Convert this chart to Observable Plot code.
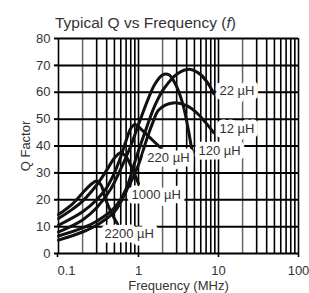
<!DOCTYPE html>
<html>
<head>
<meta charset="utf-8">
<script src="https://cdn.jsdelivr.net/npm/d3@7"></script>
<script src="https://cdn.jsdelivr.net/npm/@observablehq/plot@0.6"></script>
<style>
  html, body { margin: 0; padding: 0; background: #fff; }
  #wrap { width: 309px; height: 293px; position: relative; overflow: hidden; }
  #title { position: absolute; left: 55px; top: 15px; font: 15.5px "Liberation Sans", Arial, sans-serif; line-height: 1; color: #333; white-space: nowrap; }
  #chart { position: absolute; left: 0; top: 33px; }
</style>
</head>
<body>
<div id="wrap">
  <div id="title">Typical Q vs Frequency (<i>f</i>)</div>
  <div id="chart"></div>
</div>
<script>
// Series names
const series = ["12 µH", "22 µH", "120 µH", "220 µH", "1000 µH", "2200 µH"];

// Frequency (MHz) and Q values per series
const f12 = [0.1, 0.2, 0.3, 0.5, 0.7, 1.0, 1.22, 1.5, 1.8, 2.7, 4, 5.5, 7, 8.7];
const q12 = [5, 8, 10.5, 15.5, 23, 33, 41, 48.5, 53.5, 56, 55, 52, 48.5, 45];

const f22 = [0.1, 0.2, 0.3, 0.5, 0.7, 0.92, 1.2, 1.6, 2.1, 3.1, 4.5, 6, 7.5, 8.7];
const q22 = [6.5, 9.5, 12, 17, 24, 35, 45, 55, 61.5, 67, 68.5, 66.5, 63, 59.5];

const f120 = [0.1, 0.2, 0.3, 0.45, 0.6, 0.8, 1.0, 1.3, 1.6, 2.0, 2.4, 2.9, 3.3, 3.7, 4.2, 4.7];
const q120 = [8, 12.5, 17, 24, 31.5, 40, 48, 57, 63, 66.5, 66.5, 63, 59, 54, 46, 37.5];

const f220 = [0.1, 0.2, 0.3, 0.4, 0.5, 0.6, 0.7, 0.8, 0.9, 1.1, 1.4, 1.88];
const q220 = [10.5, 15.5, 20, 24.5, 30, 36, 42, 46.5, 48, 46, 43, 39.4];

const f1000 = [0.1, 0.15, 0.2, 0.3, 0.4, 0.5, 0.6, 0.7, 0.85, 1.0];
const q1000 = [13, 16.5, 19.5, 25.5, 31, 35.5, 37.5, 36, 31, 26];

const f2200 = [0.1, 0.15, 0.2, 0.25, 0.3, 0.34, 0.39, 0.46, 0.55];
const q2200 = [14.5, 18.5, 22.5, 25.5, 27, 25.5, 20, 15, 10.8];

// Label anchor points (data units)
const labelF = [10.3, 10.3, 5.62, 1.29, 0.818, 0.376];
const labelQ = [46.5, 60.6, 38.3, 35.7, 22, 7.4];

// Tick labels
const xTicks = [1, 10, 100];
const xFirstTick = [0.1];
const yTicks = [0, 10, 20, 30, 40, 50, 60, 70, 80];

// Build tables
const freqs = [f12, f22, f120, f220, f1000, f2200];
const qs = [q12, q22, q120, q220, q1000, q2200];
const rows = [];
series.forEach((s, i) => freqs[i].forEach((f, j) => rows.push({series: s, f, q: qs[i][j]})));
const labels = series.map((s, i) => ({text: s, f: labelF[i], q: labelQ[i]}));

// Log grid lines
const gridX = [];
[0.1, 1, 10].forEach(dec => d3.range(1, 10).forEach(k => gridX.push(k * dec)));
gridX.push(100);
const gridXLight = gridX.filter(v => [0.2, 2, 20].some(t => Math.abs(v - t) < 1e-9));
const gridXDark = gridX.filter(v => !gridXLight.includes(v));

const font = "'Liberation Sans', Arial, sans-serif";

const chart = Plot.plot({
  width: 309,
  height: 260,
  marginLeft: 58,
  marginRight: 11,
  marginTop: 5,
  marginBottom: 40,
  style: {fontFamily: font, fontSize: "13px", color: "#333", background: "white", overflow: "visible"},
  x: {type: "log", domain: [0.1, 100]},
  y: {domain: [0, 80]},
  marks: [
    Plot.ruleX(gridXLight, {stroke: "#666", strokeWidth: 1.5}),
    Plot.ruleX(gridXDark, {stroke: "#000", strokeWidth: 1.6}),
    Plot.ruleY(yTicks, {stroke: "#000", strokeWidth: 2}),
    Plot.axisY(yTicks, {
      tickSize: 4, tickPadding: 4, stroke: "#000", strokeWidth: 2,
      label: "Q Factor", labelAnchor: "center", labelOffset: 38, labelArrow: "none",
      fontSize: 13, fill: "#333"
    }),
    Plot.axisX(xTicks, {
      tickSize: 4, tickPadding: 8, stroke: "#000", strokeWidth: 1.6,
      tickFormat: d => String(d),
      label: "Frequency (MHz)", labelAnchor: "center", labelOffset: 36, labelArrow: "none",
      fontSize: 13, fill: "#333"
    }),
    Plot.axisX(xFirstTick, {
      tickSize: 4, tickPadding: 8, stroke: "#000", strokeWidth: 1.6,
      tickFormat: d => String(d), textAnchor: "start", dx: -1,
      label: null, fontSize: 13, fill: "#333"
    }),
    Plot.line(rows, {x: "f", y: "q", z: "series", stroke: "#111", strokeWidth: 3, curve: "catmull-rom"}),
    Plot.text(labels, {
      x: "f", y: "q", text: "text", textAnchor: "start",
      fill: "#333", stroke: "white", strokeWidth: 9, strokeLinejoin: "round", paintOrder: "stroke",
      fontSize: 13
    })
  ]
});
document.getElementById("chart").appendChild(chart);
</script>
</body>
</html>
